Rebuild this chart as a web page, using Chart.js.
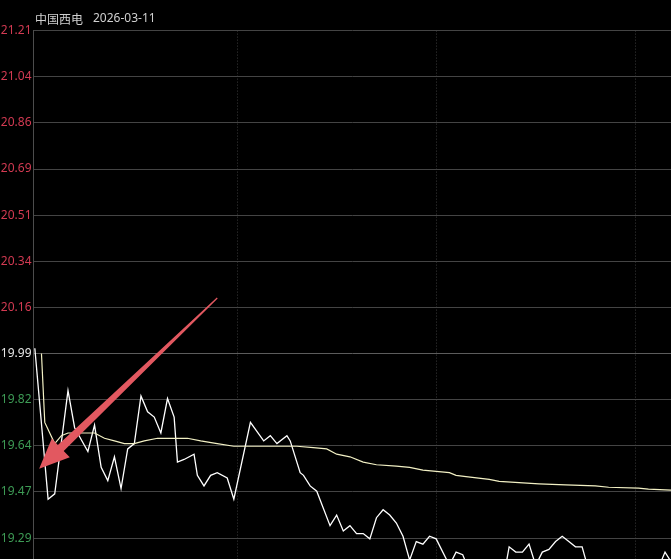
<!DOCTYPE html>
<html>
<head>
<meta charset="utf-8">
<script src="https://cdn.jsdelivr.net/npm/chart.js@4.4.1/dist/chart.umd.min.js"></script>
<style>
  html, body { margin: 0; padding: 0; background: #000; overflow: hidden; }
  canvas { display: block; }
</style>
</head>
<body>
<canvas id="chart" width="671" height="559"></canvas>
<script>
const stockName = '中国西电';
const tradeDate = '2026-03-11';
const prevClose = 19.99;
const limitTop = 21.21;

// price axis labels, bottom to top
const yTickLabels = ['19.29', '19.47', '19.64', '19.82', '19.99', '20.16', '20.34', '20.51', '20.69', '20.86', '21.04', '21.21'];

// minutes after the open, and the price / average price
const priceMinutes = [0, 4, 6, 10, 12, 16, 18, 20, 22, 24, 26, 28, 30, 32, 34, 36, 38, 40, 42, 43, 45, 48, 49, 51, 53, 55, 58, 60,
  65, 69, 71, 73, 76, 77, 80, 81, 83, 85, 89, 91, 93, 95, 97, 99, 101, 103, 105, 107, 109, 111, 113, 115, 117, 119, 121,
  125, 127, 129, 131, 134, 137, 140, 142, 143, 145, 147, 149, 151, 153, 155, 157, 159, 161, 163, 165, 167, 170, 173,
  176, 179, 182, 185, 188, 190, 192];
const prices = [20.01, 19.44, 19.46, 19.85, 19.71, 19.62, 19.72, 19.56, 19.51, 19.60, 19.48, 19.63, 19.65, 19.83, 19.77, 19.75, 19.69, 19.82, 19.75, 19.58, 19.59, 19.61, 19.53, 19.49, 19.53, 19.54, 19.52, 19.44,
  19.73, 19.66, 19.68, 19.65, 19.68, 19.66, 19.54, 19.53, 19.49, 19.47, 19.34, 19.38, 19.32, 19.34, 19.31, 19.31, 19.29, 19.37, 19.40, 19.38, 19.35, 19.30, 19.21, 19.28, 19.27, 19.30, 19.29,
  19.19, 19.24, 19.23, 19.17, 19.15, 19.18, 19.16, 19.19, 19.26, 19.24, 19.24, 19.27, 19.19, 19.24, 19.25, 19.28, 19.30, 19.28, 19.26, 19.26, 19.17, 19.14, 19.12,
  19.15, 19.13, 19.16, 19.14, 19.18, 19.24, 19.20];

const avgMinutes = [2, 3, 6, 8, 10, 14, 18, 21, 24, 27, 30, 33, 37, 42, 46, 50, 55, 60, 66, 79, 84, 88, 91, 95, 99, 103, 109, 113, 117,
  125, 127, 130, 137, 140, 152, 160, 169, 173, 182, 185, 192];
const avgPrices = [19.99, 19.73, 19.65, 19.68, 19.69, 19.69, 19.69, 19.67, 19.66, 19.65, 19.65, 19.66, 19.67, 19.67, 19.67, 19.66, 19.65, 19.64, 19.64, 19.64, 19.635, 19.63, 19.61, 19.60, 19.58, 19.57, 19.565, 19.56, 19.55,
  19.54, 19.53, 19.525, 19.515, 19.507, 19.498, 19.494, 19.49, 19.485, 19.482, 19.478, 19.474];

// hourly divider minutes
const hourMarks = [61, 121, 181];

// annotation arrow, in (minute, price)
const arrowFrom = { minute: 55, price: 20.20 };
const arrowTo = { minute: 1.3, price: 19.555 };

const step = (limitTop - prevClose) / 7;
const yTickValues = yTickLabels.map((_, i) => prevClose + (i - 4) * step);

const toPoints = (xs, ys) => xs.map((m, i) => ({ x: m, y: ys[i] }));

const headerPlugin = {
  id: 'header',
  afterDraw(chart) {
    const ctx = chart.ctx;
    const left = chart.chartArea.left;
    ctx.save();
    ctx.fillStyle = '#d0d0d0';
    ctx.textBaseline = 'middle';
    ctx.font = '12px "Noto Sans CJK SC", "Noto Sans", sans-serif';
    ctx.fillText(stockName, left + 1.5, 19);
    ctx.font = '12px "Noto Sans", sans-serif';
    ctx.fillText(tradeDate, left + 59.5, 19);
    ctx.restore();
  }
};

const arrowPlugin = {
  id: 'arrow',
  afterDatasetsDraw(chart) {
    const { ctx, scales } = chart;
    const tx = scales.x.getPixelForValue(arrowFrom.minute);
    const ty = scales.y.getPixelForValue(arrowFrom.price);
    const px = scales.x.getPixelForValue(arrowTo.minute);
    const py = scales.y.getPixelForValue(arrowTo.price);
    const len = Math.hypot(px - tx, py - ty);
    const ux = (px - tx) / len, uy = (py - ty) / len;
    const nx = -uy, ny = ux;
    const headLen = 30, headHalf = 13, shaftHalf = 4.2, tailHalf = 0.6;
    const bx = px - ux * headLen, by = py - uy * headLen;
    ctx.save();
    ctx.fillStyle = '#e25860';
    ctx.beginPath();
    ctx.moveTo(tx + nx * tailHalf, ty + ny * tailHalf);
    ctx.lineTo(bx + nx * shaftHalf, by + ny * shaftHalf);
    ctx.lineTo(bx + nx * headHalf, by + ny * headHalf);
    ctx.lineTo(px, py);
    ctx.lineTo(bx - nx * headHalf, by - ny * headHalf);
    ctx.lineTo(bx - nx * shaftHalf, by - ny * shaftHalf);
    ctx.lineTo(tx - nx * tailHalf, ty - ny * tailHalf);
    ctx.closePath();
    ctx.fill();
    ctx.restore();
  }
};

new Chart(document.getElementById('chart'), {
  type: 'line',
  data: {
    datasets: [
      {
        label: '均价',
        data: toPoints(avgMinutes, avgPrices),
        borderColor: '#f2f0c4',
        borderWidth: 1.2,
        pointRadius: 0,
        tension: 0
      },
      {
        label: '价格',
        data: toPoints(priceMinutes, prices),
        borderColor: '#ffffff',
        borderWidth: 1.3,
        pointRadius: 0,
        tension: 0
      }
    ]
  },
  options: {
    responsive: false,
    animation: false,
    layout: { padding: { top: 30.6, left: 0, right: 0, bottom: 0 } },
    plugins: {
      legend: { display: false },
      tooltip: { enabled: false }
    },
    scales: {
      x: {
        type: 'linear',
        min: -0.4,
        max: 191.8,
        afterBuildTicks: (scale) => { scale.ticks = hourMarks.map(v => ({ value: v })); },
        ticks: { display: false },
        grid: { color: '#3a3a3a', drawTicks: false },
        border: { display: false, dash: [1, 2] }
      },
      y: {
        type: 'linear',
        min: 19.214,
        max: limitTop,
        afterBuildTicks: (scale) => { scale.ticks = yTickValues.map(v => ({ value: v })); },
        afterFit: (scale) => { scale.width = 33.5; scale.paddingTop = 0; scale.paddingBottom = 0; },
        ticks: {
          padding: 2,
          font: { family: '"Noto Sans", sans-serif', size: 12 },
          color: (c) => {
            const v = c.tick.value;
            if (Math.abs(v - prevClose) < 0.001) return '#e6e6e6';
            return v > prevClose ? '#d23a52' : '#3d9b55';
          },
          callback: (value, index) => yTickLabels[index]
        },
        grid: {
          drawTicks: false,
          color: (c) => (c.tick && Math.abs(c.tick.value - prevClose) < 0.001) ? '#5c5c5c' : '#444444'
        },
        border: { color: '#4c4c4c', width: 1 }
      }
    }
  },
  plugins: [headerPlugin, arrowPlugin]
});
</script>
</body>
</html>
